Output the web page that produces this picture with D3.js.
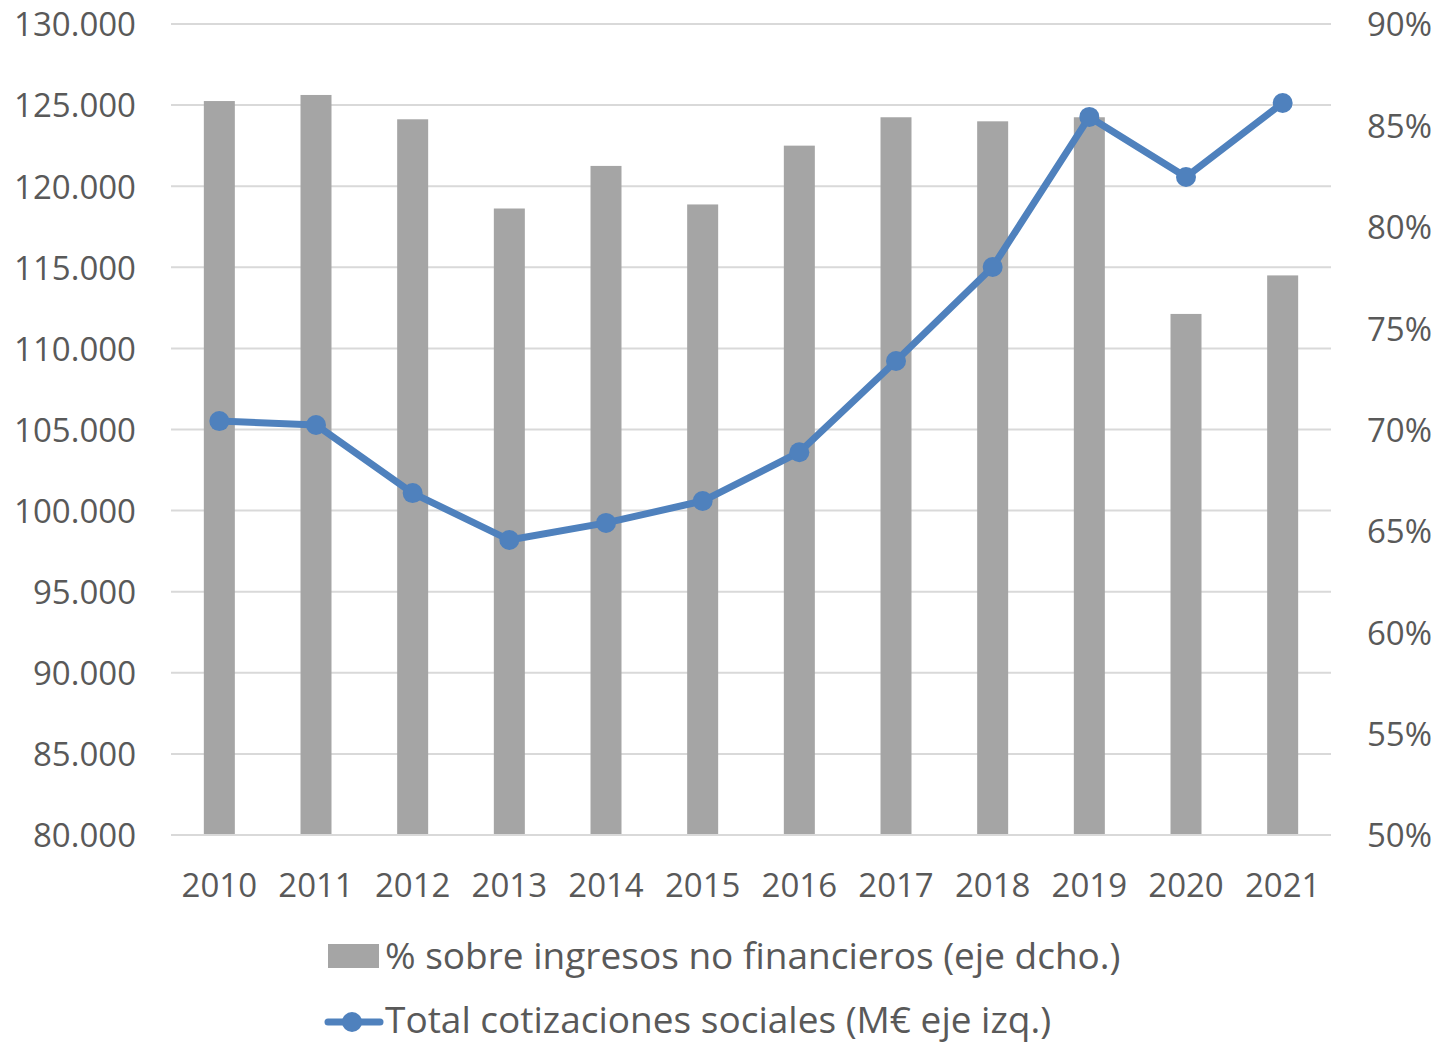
<!DOCTYPE html>
<html>
<head>
<meta charset="utf-8">
<script src="https://cdn.jsdelivr.net/npm/d3@7"></script>
<style>
  body { margin: 0; background: #fff; }
  text { font-family: "Open Sans", Lato, sans-serif; fill: #595959; }
</style>
</head>
<body>
<svg id="chart" width="1451" height="1044"></svg>
<script>
var years = ["2010","2011","2012","2013","2014","2015","2016","2017","2018","2019","2020","2021"];
// % sobre ingresos no financieros (right axis)
var pctIngresos = [86.2, 86.5, 85.3, 80.9, 83.0, 81.1, 84.0, 85.4, 85.2, 85.4, 75.7, 77.6];
// Total cotizaciones sociales, M€ (left axis)
var cotizaciones = [105520, 105280, 101080, 98190, 99240, 100590, 103600, 109220, 115020, 124270, 120570, 125130];
var leftTicks = [80000, 85000, 90000, 95000, 100000, 105000, 110000, 115000, 120000, 125000, 130000];
var rightTicks = [50, 55, 60, 65, 70, 75, 80, 85, 90];
var barName = "% sobre ingresos no financieros (eje dcho.)";
var lineName = "Total cotizaciones sociales (M€ eje izq.)";

var plotL = 171, plotR = 1331, plotT = 24, plotB = 835;
var barColor = "#a5a5a5", lineColor = "#4f81bd", gridColor = "#d9d9d9";

var svg = d3.select("#chart");

var x = d3.scaleBand().domain(years).range([plotL, plotR]);
var yL = d3.scaleLinear().domain([80000, 130000]).range([plotB, plotT]);
var yR = d3.scaleLinear().domain([50, 90]).range([plotB, plotT]);
var fmtL = function(d) { return d3.format(",")(d).replace(/,/g, "."); };

// gridlines
svg.append("g").selectAll("line")
    .data(leftTicks)
    .enter().append("line")
    .attr("x1", plotL).attr("x2", plotR)
    .attr("y1", function(d) { return yL(d); })
    .attr("y2", function(d) { return yL(d); })
    .attr("stroke", gridColor)
    .attr("stroke-width", 2);

// left axis
var axL = svg.append("g")
    .attr("transform", "translate(" + (plotL - 35) + ",0)")
    .call(d3.axisLeft(yL).tickValues(leftTicks).tickFormat(fmtL).tickSize(0).tickPadding(0));
axL.select(".domain").remove();
axL.selectAll("text").attr("font-size", 33).attr("dy", "0.36em").attr("fill", "#595959");

// right axis
var axR = svg.append("g")
    .attr("transform", "translate(" + (plotR + 36) + ",0)")
    .call(d3.axisRight(yR).tickValues(rightTicks).tickFormat(function(d) { return d + "%"; }).tickSize(0).tickPadding(0));
axR.select(".domain").remove();
axR.selectAll("text").attr("font-size", 33).attr("dy", "0.36em").attr("fill", "#595959");

// x axis
var axX = svg.append("g")
    .attr("transform", "translate(0," + plotB + ")")
    .call(d3.axisBottom(x).tickSize(0).tickPadding(0));
axX.select(".domain").remove();
axX.selectAll("text").attr("font-size", 33).attr("y", 50).attr("dy", "0.36em").attr("fill", "#595959");

// bars
var barW = 31;
svg.append("g").selectAll("rect")
    .data(pctIngresos)
    .enter().append("rect")
    .attr("x", function(d, i) { return x(years[i]) + x.bandwidth() / 2 - barW / 2; })
    .attr("y", function(d) { return yR(d); })
    .attr("width", barW)
    .attr("height", function(d) { return plotB - yR(d); })
    .attr("fill", barColor);

// bottom axis line over bars
svg.append("line")
    .attr("x1", plotL).attr("x2", plotR)
    .attr("y1", plotB).attr("y2", plotB)
    .attr("stroke", gridColor).attr("stroke-width", 2);

// line series
var line = d3.line()
    .x(function(d, i) { return x(years[i]) + x.bandwidth() / 2; })
    .y(function(d) { return yL(d); });

svg.append("path")
    .datum(cotizaciones)
    .attr("d", line)
    .attr("fill", "none")
    .attr("stroke", lineColor)
    .attr("stroke-width", 7)
    .attr("stroke-linejoin", "round");

svg.append("g").selectAll("circle")
    .data(cotizaciones)
    .enter().append("circle")
    .attr("cx", function(d, i) { return x(years[i]) + x.bandwidth() / 2; })
    .attr("cy", function(d) { return yL(d); })
    .attr("r", 10)
    .attr("fill", lineColor);

// legend
var lg = svg.append("g");
lg.append("rect")
    .attr("x", 328).attr("y", 944)
    .attr("width", 51).attr("height", 24)
    .attr("fill", barColor);
lg.append("text")
    .attr("x", 385).attr("y", 956)
    .attr("dy", "0.36em")
    .attr("font-size", 37)
    .text(barName);

lg.append("line")
    .attr("x1", 328).attr("x2", 380)
    .attr("y1", 1022).attr("y2", 1022)
    .attr("stroke", lineColor).attr("stroke-width", 7)
    .attr("stroke-linecap", "round");
lg.append("circle")
    .attr("cx", 352).attr("cy", 1022).attr("r", 10)
    .attr("fill", lineColor);
lg.append("text")
    .attr("x", 385).attr("y", 1020)
    .attr("dy", "0.36em")
    .attr("font-size", 37)
    .text(lineName);
</script>
</body>
</html>
